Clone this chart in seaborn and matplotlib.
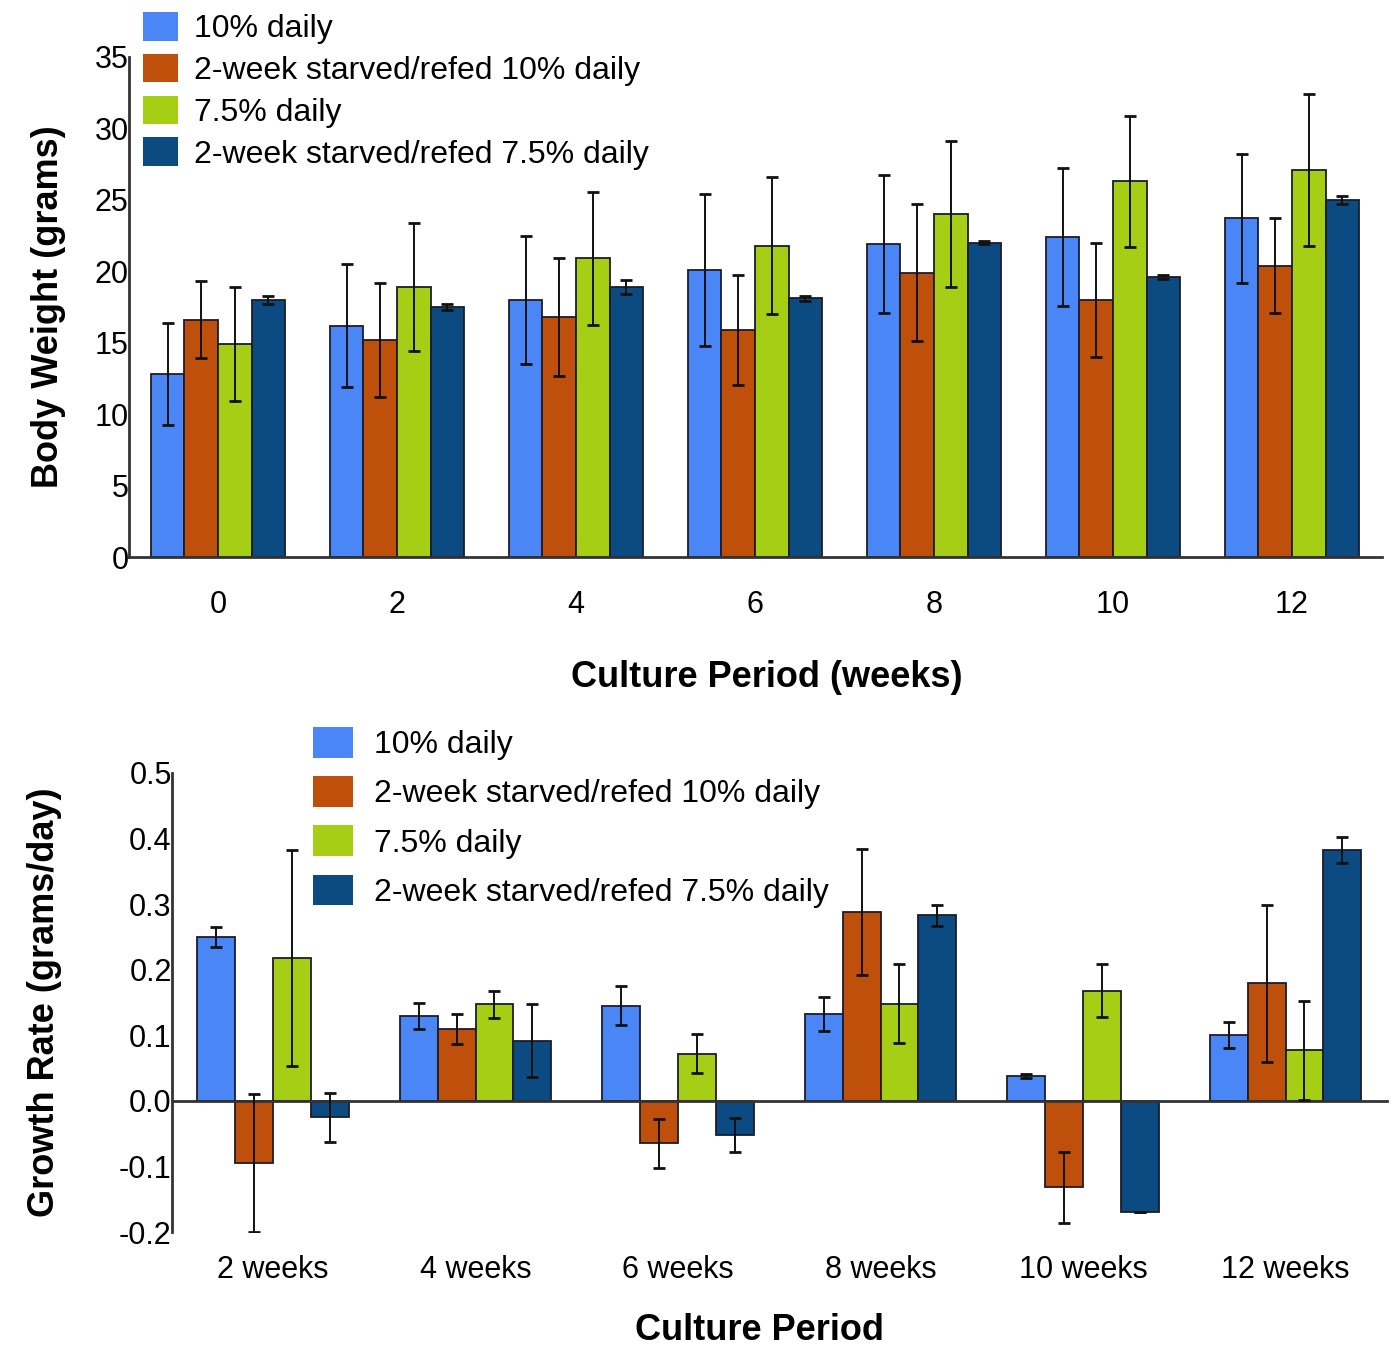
import numpy as np
import pandas as pd
import matplotlib
matplotlib.use("Agg")
import matplotlib.pyplot as plt
import matplotlib.transforms as mtransforms
from matplotlib.patches import Patch
import seaborn as sns

# series names and colours
groups = ["10% daily", "2-week starved/refed 10% daily",
          "7.5% daily", "2-week starved/refed 7.5% daily"]
colors = ["#4a86f5", "#bf500c", "#a6ce14", "#0c4b82"]

# top panel: body weight (grams)
weeks = ["0", "2", "4", "6", "8", "10", "12"]
bw_10 = [12.8, 16.2, 18.0, 20.1, 21.9, 22.4, 23.7]
bw_10_err = [3.55, 4.3, 4.5, 5.3, 4.85, 4.8, 4.5]
bw_sr10 = [16.6, 15.2, 16.8, 15.9, 19.9, 18.0, 20.4]
bw_sr10_err = [2.7, 4.0, 4.15, 3.85, 4.8, 4.0, 3.3]
bw_75 = [14.9, 18.9, 20.9, 21.8, 24.0, 26.3, 27.1]
bw_75_err = [4.0, 4.5, 4.65, 4.8, 5.1, 4.6, 5.3]
bw_sr75 = [18.0, 17.5, 18.9, 18.1, 22.0, 19.6, 25.0]
bw_sr75_err = [0.3, 0.2, 0.5, 0.2, 0.1, 0.15, 0.3]

# bottom panel: growth rate (grams/day)
periods = ["2 weeks", "4 weeks", "6 weeks", "8 weeks", "10 weeks", "12 weeks"]
gr_10 = [0.250, 0.129, 0.145, 0.133, 0.038, 0.100]
gr_10_err = [0.015, 0.02, 0.03, 0.026, 0.003, 0.02]
gr_sr10 = [-0.095, 0.109, -0.065, 0.288, -0.132, 0.179]
gr_sr10_err = [0.105, 0.023, 0.038, 0.096, 0.054, 0.12]
gr_75 = [0.218, 0.147, 0.072, 0.148, 0.168, 0.077]
gr_75_err = [0.165, 0.02, 0.03, 0.06, 0.04, 0.075]
gr_sr75 = [-0.025, 0.092, -0.052, 0.283, -0.170, 0.382]
gr_sr75_err = [0.037, 0.055, 0.026, 0.016, 0.0, 0.02]

sns.set_style("white")
plt.rcParams["font.family"] = ["Liberation Sans", "DejaVu Sans"]
plt.rcParams["text.color"] = "black"
plt.rcParams["axes.labelcolor"] = "black"
plt.rcParams["xtick.color"] = "black"
plt.rcParams["ytick.color"] = "black"

W, H = 1392, 1349
fig = plt.figure(figsize=(W / 100, H / 100), dpi=100)


def draw_panel(ax, cats, series, errs):
    df = pd.DataFrame({
        "x": np.tile(cats, len(groups)),
        "group": np.repeat(groups, len(cats)),
        "y": np.concatenate(series),
    })
    sns.barplot(data=df, x="x", y="y", hue="group", order=cats, hue_order=groups,
                palette=colors, width=0.75, errorbar=None, legend=False,
                saturation=1, edgecolor="#1c1c28", linewidth=1.3, ax=ax)
    for cont, vals, err in zip(ax.containers, series, errs):
        xs = [b.get_x() + b.get_width() / 2 for b in cont]
        ax.errorbar(xs, vals, yerr=err, fmt="none", ecolor="#111111",
                    elinewidth=1.4, capsize=4.5, capthick=2, zorder=5)
    for s in ["top", "right"]:
        ax.spines[s].set_visible(False)
    for s in ["left", "bottom"]:
        ax.spines[s].set_color("#333333")
        ax.spines[s].set_linewidth(2)
    n = len(cats)
    ax.set_xlim(-0.5, n - 0.5)
    ax.set_xticks(np.arange(-0.5, n, 1.0), minor=True)
    ax.tick_params(axis="x", which="minor", length=7, width=1.2,
                   color="#333333", direction="out")
    ax.tick_params(axis="y", length=0, pad=0, labelsize=22)


# ---- top chart ----
ax1 = fig.add_axes([128.5 / W, 1 - 557 / H, 1253 / W, 500 / H])
draw_panel(ax1, weeks, [bw_10, bw_sr10, bw_75, bw_sr75],
           [bw_10_err, bw_sr10_err, bw_75_err, bw_sr75_err])
ax1.set_ylim(0, 35)
ax1.set_yticks(range(0, 36, 5))
ax1.tick_params(axis="x", which="major", length=0, pad=24, labelsize=22)
ax1.set_xlabel("Culture Period (weeks)", fontsize=26, fontweight="bold")
ax1.xaxis.set_label_coords(0.509, -0.205)
ax1.set_ylabel("Body Weight (grams)", fontsize=26, fontweight="bold")
ax1.yaxis.set_label_coords(-0.05, 0.5)

handles = [Patch(facecolor=c, edgecolor="none") for c in colors]
fig.legend(handles, groups, loc="upper left", bbox_to_anchor=(143 / W, 1 - 12 / H),
           frameon=False, fontsize=23, borderpad=0, borderaxespad=0,
           labelspacing=0.3, handlelength=1.1, handleheight=1.0, handletextpad=0.5)

# ---- bottom chart ----
ax2 = fig.add_axes([171.75 / W, 1 - 1232 / H, 1215 / W, 459 / H])
draw_panel(ax2, periods, [gr_10, gr_sr10, gr_75, gr_sr75],
           [gr_10_err, gr_sr10_err, gr_75_err, gr_sr75_err])
ax2.set_ylim(-0.2, 0.5)
ax2.set_yticks(np.arange(-0.2, 0.51, 0.1))
ax2.yaxis.set_major_formatter(matplotlib.ticker.FormatStrFormatter("%.1f"))
ax2.spines["bottom"].set_position(("data", 0))
ax2.tick_params(axis="x", which="major", length=0, labelbottom=False)
trans = mtransforms.blended_transform_factory(ax2.transData, ax2.transAxes)
for i, p in enumerate(periods):
    ax2.text(i, -0.083, p, transform=trans, ha="center", va="center", fontsize=22)
ax2.set_xlabel("Culture Period", fontsize=26, fontweight="bold")
ax2.xaxis.set_label_coords(0.484, -0.176)
ax2.set_ylabel("Growth Rate (grams/day)", fontsize=26, fontweight="bold")
ax2.yaxis.set_label_coords(-0.09, 0.5)

fig.legend(handles, groups, loc="upper left", bbox_to_anchor=(313 / W, 1 - 727 / H),
           frameon=False, fontsize=23, borderpad=0, borderaxespad=0,
           labelspacing=0.5, handlelength=1.25, handleheight=1.1, handletextpad=0.65)

fig.savefig("out.png", dpi=100)
